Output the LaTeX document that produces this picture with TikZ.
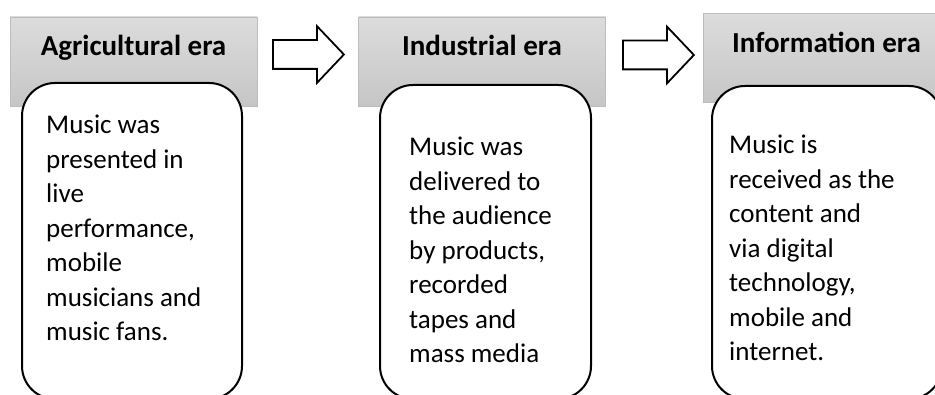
\documentclass[tikz,border=0pt]{standalone}
\usepackage{fontspec}
\setmainfont{Carlito}
\usepackage{tikz}
\usetikzlibrary{shadings}
\usetikzlibrary{shapes.arrows, positioning}

\definecolor{headtop}{HTML}{DCDCDC}
\definecolor{headbot}{HTML}{C6C6C6}
\definecolor{headline}{HTML}{BDBDBD}

\begin{document}
\begin{tikzpicture}[x=1pt,y=1pt,
    era/.style={rectangle,draw=headline,line width=0.8pt,top color=headtop,bottom color=headbot,
        minimum width=247pt,inner sep=0pt,text height=39pt,text depth=50pt,
        font=\fontsize{29}{34}\selectfont\bfseries},
    card/.style={rectangle,rounded corners=33pt,draw=black,line width=2pt,fill=white},
    desc/.style={inner sep=0pt,align=left,font=\fontsize{27}{34.5}\selectfont},
    nextarrow/.style={single arrow,draw=black,line width=1.8pt,fill=white,inner sep=0pt,
        text height=13.5pt,text depth=13.5pt,anchor=tail,
        minimum height=71pt,single arrow head extend=14pt,
        single arrow tip angle=93}]
    \useasboundingbox (0,0) rectangle (935,395);
    % era headers
    \node[era] (agri) at (133.5,333.5) {Agricultural era};
    \node[era] (indu) at (482,333.5) {Industrial era};
    \node[era] (info) at (826.5,337) {Information era};
    % arrows between the eras
    \node[nextarrow,at={(272,340.5)}] (agri2indu) {};
    \node[nextarrow,at={(622,340)}] (indu2info) {};
    % rounded cards, running off the bottom
    \node[card,minimum width=220pt,minimum height=316pt] (agricard) at (132,154) {};
    \node[card,minimum width=211pt,minimum height=314pt] (inducard) at (485.5,153) {};
    \node[card,minimum width=230pt,minimum height=313pt] (infocard) at (827,152.5) {};
    % card texts
    \node[desc,below right=33pt and 25pt of agricard.north west] (agritext)
        {Music was\\presented in\\live\\performance,\\mobile\\musicians and\\music fans.};
    \node[desc,below right=53pt and 30pt of inducard.north west] (indutext)
        {Music was\\delivered to\\the audience\\by products,\\recorded\\tapes and\\mass media};
    \node[desc,below right=50pt and 18pt of infocard.north west] (infotext)
        {Music is\\received as the\\content and\\via digital\\technology,\\mobile and\\internet.};
\end{tikzpicture}
\end{document}
